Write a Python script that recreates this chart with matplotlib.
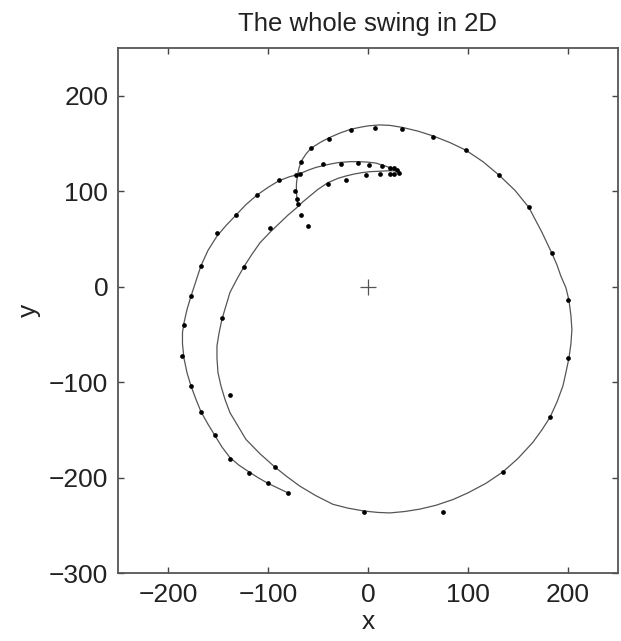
import matplotlib
matplotlib.use('Agg')
import matplotlib.pyplot as plt

# fitted swing path, one continuous line
path_x = [-80, -90, -100, -110, -119, -129, -138, -146, -153, -160, -167, -172,
          -177, -181, -184, -185.5, -185.5, -184, -181, -177, -172, -167, -160, -151,
          -142, -132, -122, -111, -100, -89, -79, -69, -60, -52, -40, -30, -18, -9,
          0, 8, 14, 20, 25, 29, 32,
          28, 22, 12, 2, -6, -14, -22, -30, -40, -50, -58, -65, -71, -80, -88, -98,
          -108, -116, -124, -131, -138, -142, -146, -149, -151, -151, -150, -147, -143,
          -138, -130, -122, -108, -93, -81, -68, -52, -35, -20, -4, 10, 22, 37, 52,
          68, 85, 100, 118, 135, 150, 165, 174, 182, 189, 195, 198, 201, 203, 204,
          203, 201, 198, 193, 189, 184, 174, 161, 147, 131, 115, 98, 82, 65, 50, 34,
          22, 12, 0, -8, -17, -28, -39, -48, -57, -62, -67, -69, -70.6, -71.5, -71.6,
          -71.2, -70.6, -70.3]
path_y = [-216, -211, -206, -200, -194, -187, -179, -168, -156, -144, -131, -118,
          -104, -90, -75, -60, -48, -38, -24, -10, 6, 22, 38, 53,
          64, 75, 86, 96, 104, 111, 115, 118, 122, 125, 128, 130, 131, 131,
          130.5, 129.5, 127.5, 125.5, 123, 121.5, 120,
          121.5, 121.5, 121, 120.5, 119.5, 118, 116, 113.5, 109, 102, 95, 89, 83, 75, 67, 57,
          46, 34, 21, 8, -6, -20, -34, -49, -62, -75, -90, -104, -118,
          -132, -146, -160, -175, -189, -199, -209, -219, -228, -232, -235, -236.5, -237, -235.5, -233,
          -229, -223, -216, -206, -194, -180, -163, -150, -137, -121, -104, -90, -75, -60, -45,
          -30, -14, -1, 11, 23, 35, 57, 83, 101, 117, 131, 143, 151, 158, 163, 167,
          169, 169.5, 168.5, 167, 165, 161, 156, 151, 145, 139, 131, 124, 116, 108, 102,
          95, 89, 86]

# measured marker positions
dot_x = [-80, -100, -119, -138, -153, -167, -177, -186, -184, -177, -167, -151,
         -132, -111, -89, -72, -68,
         -45, -27, -10, 1, 14, 22, 26, 31, 26, 22, 29,
         12, -2, -22, -40, -73, -71, -70, -67, -60, -98, -124, -146, -138, -93,
         -4, 75, 135, 182, 200, 200, 184, 161, 131, 98, 65, 34, 7, -17, -39, -57, -67]
dot_y = [-216, -206, -195, -180, -155, -131, -104, -73, -40, -10, 22, 56,
         75, 96, 112, 117, 118,
         129, 129, 130, 128, 126, 124, 124, 119, 118, 118, 122,
         118, 117, 112, 108, 100, 92, 87, 75, 64, 62, 21, -33, -113, -189,
         -236, -236, -194, -137, -75, -14, 35, 83, 117, 143, 157, 165, 166, 164, 155, 145, 131]

plt.rcParams['font.family'] = ['Liberation Sans', 'DejaVu Sans']

fig = plt.figure(figsize=(6.21, 6.41), dpi=100)
ax = fig.add_axes([0.190, 0.106, 0.805, 0.819])

ax.plot(path_x, path_y, color='#555555', lw=0.9)
ax.plot(dot_x, dot_y, 'o', color='black', markersize=3.4, markeredgewidth=0)
ax.plot([0], [0], '+', color='#555555', markersize=11, markeredgewidth=0.9)

ax.set_xlim(-250, 250)
ax.set_ylim(-300, 250)
ax.set_xticks([-200, -100, 0, 100, 200])
ax.set_yticks([-300, -200, -100, 0, 100, 200])
ax.tick_params(direction='in', length=4, width=1, colors='#444444', labelcolor='#222222',
               labelsize=19, top=True, right=True, pad=7)
for s in ax.spines.values():
    s.set_color('#555555')
    s.set_linewidth(1.3)

ax.set_xlabel('x', fontsize=19, color='#222222', labelpad=2)
ax.set_ylabel('y', fontsize=19, color='#222222', labelpad=6)
ax.set_title('The whole swing in 2D', fontsize=18.5, color='#222222', pad=12)

fig.savefig('out.png', dpi=100)
